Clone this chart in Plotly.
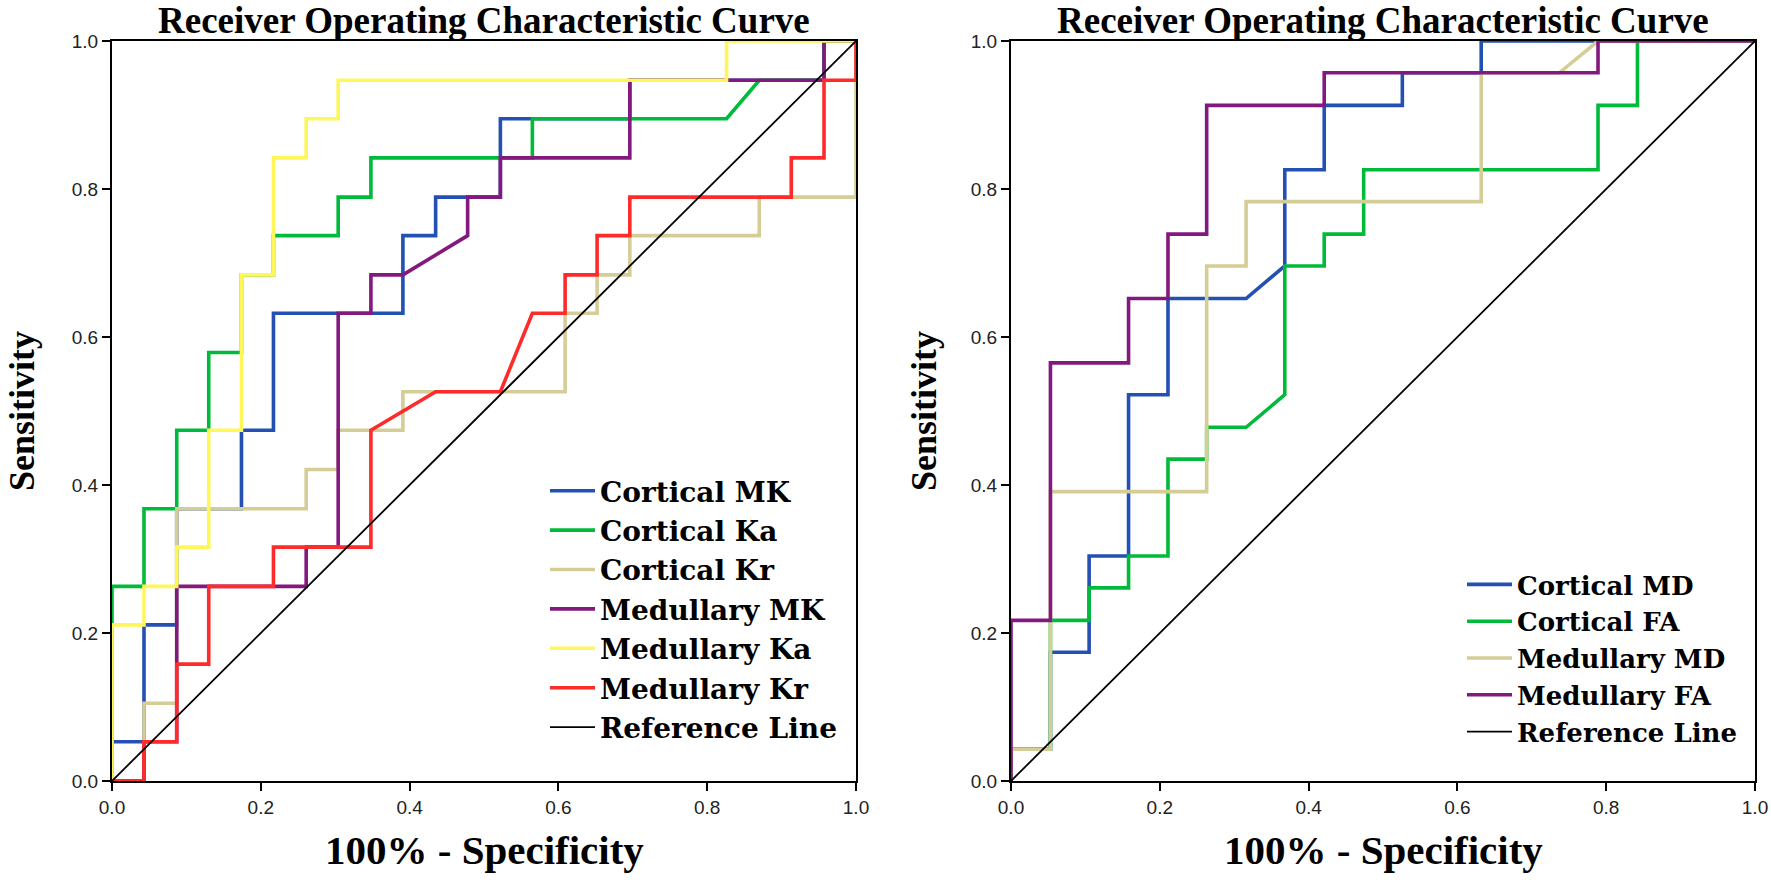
import plotly.graph_objects as go

# ---------------- Left panel (kurtosis metrics) ----------------
# x = 100% - Specificity, y = Sensitivity (vertices of each ROC step curve)
cortical_mk_x = [0, 0, .043, .043, .087, .087, .174, .174, .217, .217, .391, .391, .435, .435, .522, .522, .696, .696, .957, .957, 1]
cortical_mk_y = [0, .053, .053, .211, .211, .368, .368, .474, .474, .632, .632, .737, .737, .789, .789, .895, .895, .947, .947, 1, 1]

cortical_ka_x = [0, 0, .043, .043, .087, .087, .130, .130, .174, .174, .217, .217, .304, .304, .348, .348, .565, .565, .826, .870, .957, .957, 1]
cortical_ka_y = [0, .263, .263, .368, .368, .474, .474, .579, .579, .684, .684, .737, .737, .789, .789, .842, .842, .895, .895, .947, .947, 1, 1]

cortical_kr_x = [0, .043, .043, .087, .087, .261, .261, .304, .304, .391, .391, .609, .609, .652, .652, .696, .696, .870, .870, 1, 1]
cortical_kr_y = [0, 0, .105, .105, .368, .368, .421, .421, .474, .474, .526, .526, .632, .632, .684, .684, .737, .737, .789, .789, 1]

medullary_mk_x = [0, .043, .043, .087, .087, .261, .261, .304, .304, .348, .348, .391, .478, .478, .522, .522, .696, .696, .957, .957, 1]
medullary_mk_y = [0, 0, .053, .053, .263, .263, .316, .316, .632, .632, .684, .684, .737, .789, .789, .842, .842, .947, .947, 1, 1]

medullary_ka_x = [0, 0, .043, .043, .087, .087, .130, .130, .174, .174, .217, .217, .261, .261, .304, .304, .826, .826, 1]
medullary_ka_y = [0, .211, .211, .263, .263, .316, .316, .474, .474, .684, .684, .842, .842, .895, .895, .947, .947, 1, 1]

medullary_kr_x = [0, .043, .043, .087, .087, .130, .130, .217, .217, .348, .348, .435, .522, .565, .609, .609, .652, .652, .696, .696, .913, .913, .957, .957, 1, 1]
medullary_kr_y = [0, 0, .053, .053, .158, .158, .263, .263, .316, .316, .474, .526, .526, .632, .632, .684, .684, .737, .737, .789, .789, .842, .842, .947, .947, 1]

# ---------------- Right panel (DTI metrics) ----------------
cortical_md_x = [0, 0, .053, .053, .105, .105, .158, .158, .211, .211, .316, .368, .368, .421, .421, .526, .526, .632, .632, 1]
cortical_md_y = [0, .043, .043, .174, .174, .304, .304, .522, .522, .652, .652, .696, .826, .826, .913, .913, .957, .957, 1, 1]

cortical_fa_x = [0, 0, .053, .053, .105, .105, .158, .158, .211, .211, .263, .263, .316, .368, .368, .421, .421, .474, .474, .789, .789, .842, .842, 1]
cortical_fa_y = [0, .043, .043, .217, .217, .261, .261, .304, .304, .435, .435, .478, .478, .522, .696, .696, .739, .739, .826, .826, .913, .913, 1, 1]

medullary_md_x = [0, 0, .053, .053, .263, .263, .316, .316, .632, .632, .737, .789, 1]
medullary_md_y = [0, .043, .043, .391, .391, .696, .696, .783, .783, .957, .957, 1, 1]

medullary_fa_x = [0, 0, .053, .053, .158, .158, .211, .211, .263, .263, .421, .421, .789, .789, 1]
medullary_fa_y = [0, .217, .217, .565, .565, .652, .652, .739, .739, .913, .913, .957, .957, 1, 1]

reference_x = [0, 1]
reference_y = [0, 1]

left_names = ["Cortical MK", "Cortical Ka", "Cortical Kr", "Medullary MK", "Medullary Ka", "Medullary Kr"]
right_names = ["Cortical MD", "Cortical FA", "Medullary MD", "Medullary FA"]
tick_vals = [0, 0.2, 0.4, 0.6, 0.8, 1.0]
tick_text = ["0.0", "0.2", "0.4", "0.6", "0.8", "1.0"]

BLUE = "#2350B2"
GREEN = "#00BB3A"
TAN = "#D4CE96"
PURPLE = "#83197F"
YELLOW = "#FFF75A"
RED = "#FF2B2B"

left_data = [(cortical_mk_x, cortical_mk_y, BLUE), (cortical_ka_x, cortical_ka_y, GREEN),
             (cortical_kr_x, cortical_kr_y, TAN), (medullary_mk_x, medullary_mk_y, PURPLE),
             (medullary_ka_x, medullary_ka_y, YELLOW), (medullary_kr_x, medullary_kr_y, RED)]
right_data = [(cortical_md_x, cortical_md_y, BLUE), (cortical_fa_x, cortical_fa_y, GREEN),
              (medullary_md_x, medullary_md_y, TAN), (medullary_fa_x, medullary_fa_y, PURPLE)]

W, H = 1771, 883
LW = 3.6

fig = go.Figure()
for i, (name, (xs, ys, col)) in enumerate(zip(left_names, left_data)):
    fig.add_trace(go.Scatter(x=xs, y=ys, mode="lines", name=name, line=dict(color=col, width=LW),
                             xaxis="x", yaxis="y", legend="legend", legendgroup="L%d" % i, hoverinfo="skip"))
fig.add_trace(go.Scatter(x=reference_x, y=reference_y, mode="lines", name="Reference Line",
                         line=dict(color="black", width=1.8), xaxis="x", yaxis="y", legend="legend",
                         legendgroup="Lref", hoverinfo="skip"))
for i, (name, (xs, ys, col)) in enumerate(zip(right_names, right_data)):
    fig.add_trace(go.Scatter(x=xs, y=ys, mode="lines", name=name, line=dict(color=col, width=LW),
                             xaxis="x2", yaxis="y2", legend="legend2", legendgroup="R%d" % i, hoverinfo="skip"))
fig.add_trace(go.Scatter(x=reference_x, y=reference_y, mode="lines", name="Reference Line",
                         line=dict(color="black", width=1.8), xaxis="x2", yaxis="y2", legend="legend2",
                         legendgroup="Rref", hoverinfo="skip"))

tickfont = dict(family="Liberation Sans, Arial, sans-serif", size=19, color="#222222")
ax_common = dict(range=[0, 1], tickvals=tick_vals, ticktext=tick_text, ticks="outside", ticklen=8,
                 tickwidth=2, tickcolor="black", showline=True, linecolor="black", linewidth=2,
                 mirror=True, showgrid=False, zeroline=False, tickfont=tickfont, fixedrange=True,
                 automargin=False)

yd = [1 - 781 / H, 1 - 41 / H]
lx = [112 / W, 856 / W]
rx = [1011 / W, 1755 / W]

serif = "Liberation Serif, Times New Roman, serif"
title_font = dict(family=serif, size=37, color="black", weight="bold")
xlab_font = dict(family=serif, size=41, color="black", weight="bold")
ylab_font = dict(family=serif, size=36, color="black", weight="bold")
legfont_l = dict(family="DejaVu Serif, serif", size=28, color="black", weight="bold")
legfont_r = dict(family="DejaVu Serif, serif", size=26, color="black", weight="bold")

fig.update_layout(
    template="none",
    width=W, height=H, margin=dict(l=0, r=0, t=0, b=0, pad=0, autoexpand=False),
    paper_bgcolor="white", plot_bgcolor="white", showlegend=True,
    xaxis=dict(domain=lx, anchor="y", **ax_common),
    yaxis=dict(domain=yd, anchor="x", **ax_common),
    xaxis2=dict(domain=rx, anchor="y2", **ax_common),
    yaxis2=dict(domain=yd, anchor="x2", **ax_common),
    legend=dict(x=545 / W, y=1 - 466 / H, xanchor="left", yanchor="top", bgcolor="rgba(0,0,0,0)",
                font=legfont_l, itemwidth=45, tracegroupgap=0, traceorder="grouped", borderwidth=0),
    legend2=dict(x=1462 / W, y=1 - 561 / H, xanchor="left", yanchor="top", bgcolor="rgba(0,0,0,0)",
                 font=legfont_r, itemwidth=45, tracegroupgap=0, traceorder="grouped", borderwidth=0),
    annotations=[
        dict(text="Receiver Operating Characteristic Curve", x=sum(lx) / 2, y=1 - 21 / H, xref="paper",
             yref="paper", showarrow=False, font=title_font, xanchor="center", yanchor="middle"),
        dict(text="Receiver Operating Characteristic Curve", x=sum(rx) / 2, y=1 - 21 / H, xref="paper",
             yref="paper", showarrow=False, font=title_font, xanchor="center", yanchor="middle"),
        dict(text="100% - Specificity", x=sum(lx) / 2, y=1 - 850 / H, xref="paper", yref="paper",
             showarrow=False, font=xlab_font, xanchor="center", yanchor="middle"),
        dict(text="100% - Specificity", x=sum(rx) / 2, y=1 - 850 / H, xref="paper", yref="paper",
             showarrow=False, font=xlab_font, xanchor="center", yanchor="middle"),
        dict(text="Sensitivity", x=22 / W, y=sum(yd) / 2, xref="paper", yref="paper", textangle=-90,
             showarrow=False, font=ylab_font, xanchor="center", yanchor="middle"),
        dict(text="Sensitivity", x=924 / W, y=sum(yd) / 2, xref="paper", yref="paper", textangle=-90,
             showarrow=False, font=ylab_font, xanchor="center", yanchor="middle"),
    ],
)

fig.write_html("out.html", post_script="document.body.style.margin='0px';",
               config={"displayModeBar": False})
